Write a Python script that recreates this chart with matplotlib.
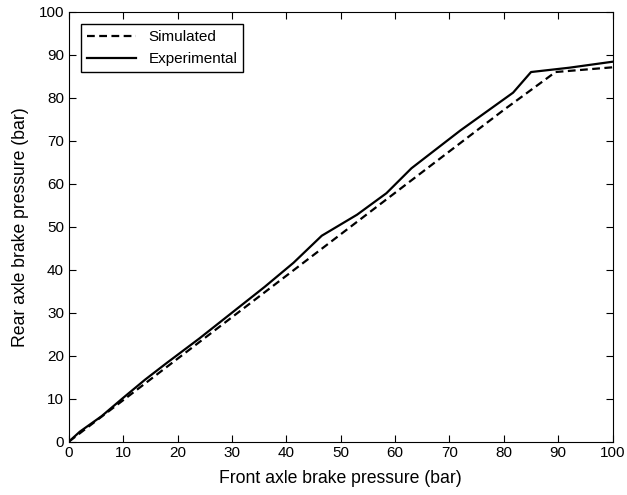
import matplotlib
matplotlib.use("Agg")
import matplotlib.pyplot as plt

# Data.
sim_x = [0, 20, 40, 60, 80, 89.5, 100]
sim_y = [0, 19.3, 38.6, 57.9, 77.2, 86.0, 87.1]

exp_x = [0, 2, 6, 10, 14, 18, 24, 30, 36, 41.3, 46.5, 53, 58.4, 63, 72, 81.7, 85, 92, 100]
exp_y = [0, 2.3, 5.9, 10.2, 14.4, 18.3, 24.0, 30.0, 36.0, 41.6, 47.9, 52.8, 57.8, 63.6, 72.4, 81.2, 86.0, 87.0, 88.4]

x_ticks = list(range(0, 101, 10))
y_ticks = list(range(0, 101, 10))

plt.rcParams['font.family'] = ['Liberation Sans', 'DejaVu Sans']

fig = plt.figure(figsize=(6.27, 4.95), dpi=100)
ax = fig.add_axes([0.110, 0.108, 0.867, 0.868])

ax.plot(sim_x, sim_y, 'k--', lw=1.6, label='Simulated', dashes=(3.5, 2))
ax.plot(exp_x, exp_y, 'k-', lw=1.6, label='Experimental')

ax.set_xlim(0, 100)
ax.set_ylim(0, 100)
ax.set_xticks(x_ticks)
ax.set_yticks(y_ticks)
ax.tick_params(direction='in', top=True, right=True, length=5, labelsize=11)
ax.set_xlabel('Front axle brake pressure (bar)', fontsize=12.7, labelpad=7)
ax.set_ylabel('Rear axle brake pressure (bar)', fontsize=12.7, labelpad=7)

leg = ax.legend(loc='upper left', fontsize=11, fancybox=False, framealpha=1,
                edgecolor='black', borderaxespad=0.8, handlelength=3.2)
leg.get_frame().set_linewidth(1.0)

fig.savefig('out.png', dpi=100)
